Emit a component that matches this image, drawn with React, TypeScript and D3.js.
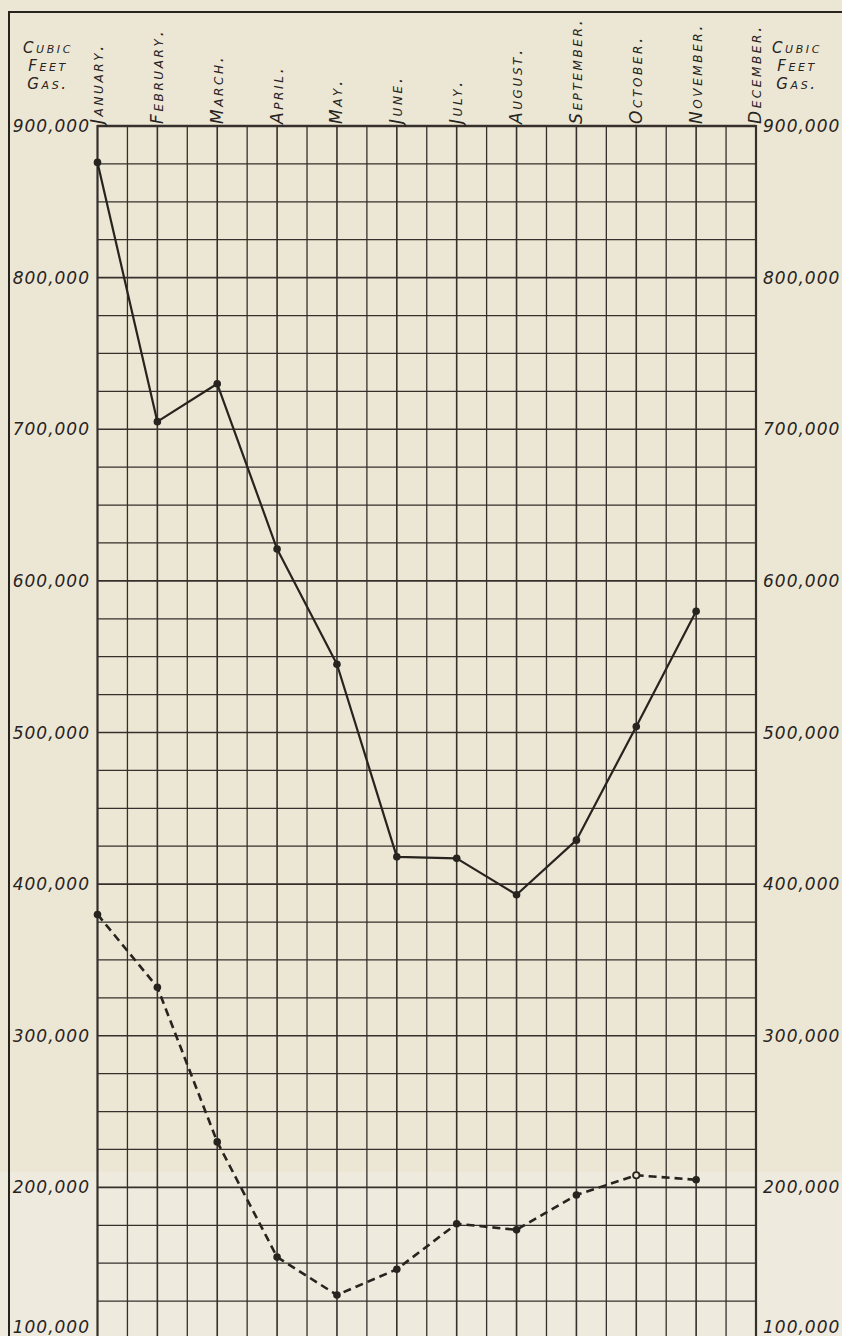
import React, { useEffect, useRef } from 'react';
import * as d3 from 'd3';

// Months along the top of the sheet
const months = [
  'January.', 'February.', 'March.', 'April.', 'May.', 'June.',
  'July.', 'August.', 'September.', 'October.', 'November.', 'December.',
];

// Solid line, cubic feet of gas, January to November
const upperSeries = [876000, 705000, 730000, 621000, 545000, 418000, 417000, 393000, 429000, 504000, 580000];

// Dashed line, cubic feet of gas, January to November
const lowerSeries = [380000, 332000, 230000, 154000, 129000, 146000, 176000, 172000, 195000, 208000, 205000];
// October point on the dashed line is drawn as an open ring
const lowerOpen = [false, false, false, false, false, false, false, false, false, true, false];

// Labelled values on both sides
const valueTicks = [900000, 800000, 700000, 600000, 500000, 400000, 300000, 200000, 100000];

const headerLines = ['Cubic', 'Feet', 'Gas.'];

const W = 842;
const H = 1336;

const App: React.FC = () => {
  const chartRef = useRef<SVGSVGElement>(null);

  useEffect(() => {
    if (!chartRef.current) return;
    const svg = d3.select(chartRef.current);
    svg.selectAll('*').remove();

    const ink = '#27231f';
    const gridInk = '#35302c';
    const paper = '#ece7d4';
    const font = '"DejaVu Sans", sans-serif';

    const x = d3.scalePoint<string>().domain(months).range([97.5, 756]);
    const y = d3.scaleLinear().domain([100000, 900000]).range([1339, 126]);
    const step = x.step();

    // paper
    svg.append('rect').attr('width', W).attr('height', H).attr('fill', paper);
    svg.append('rect').attr('y', 1172).attr('width', W).attr('height', H - 1172).attr('fill', '#eeeadd');

    // outer frame (runs off the right and bottom of the scan)
    svg.append('rect')
      .attr('x', 9).attr('y', 12)
      .attr('width', W + 20).attr('height', H + 20)
      .attr('fill', 'none').attr('stroke', ink).attr('stroke-width', 2);

    const grid = svg.append('g');
    const [x0, x1] = x.range();

    // horizontal rules every 25,000
    const hVals = d3.range(100000, 900001, 25000);
    grid.selectAll('line.h')
      .data(hVals)
      .enter()
      .append('line')
      .attr('x1', x0).attr('x2', x1)
      .attr('y1', d => y(d)).attr('y2', d => y(d))
      .attr('stroke', gridInk)
      .attr('stroke-width', d => (d === 900000 ? 2.4 : d % 100000 === 0 ? 1.6 : 1.3));

    // vertical rules: month lines plus half-month lines
    const vPos: { pos: number; major: boolean }[] = [];
    months.forEach((m, i) => {
      vPos.push({ pos: x(m)!, major: true });
      if (i < months.length - 1) vPos.push({ pos: x(m)! + step / 2, major: false });
    });
    grid.selectAll('line.v')
      .data(vPos)
      .enter()
      .append('line')
      .attr('x1', d => d.pos).attr('x2', d => d.pos)
      .attr('y1', y(900000) - 1).attr('y2', H)
      .attr('stroke', gridInk)
      .attr('stroke-width', (d, i) => (i === 0 || i === vPos.length - 1 ? 2.2 : d.major ? 1.6 : 1.3));

    // month labels, standing upright along the top
    svg.selectAll('text.month')
      .data(months)
      .enter()
      .append('text')
      .attr('transform', d => `translate(${x(d)},124) rotate(-90)`)
      .attr('dy', '0.32em')
      .attr('text-anchor', 'start')
      .style('font-family', font)
      .style('font-style', 'italic')
      .style('font-variant', 'small-caps')
      .style('font-size', '17px')
      .style('letter-spacing', '2.6px')
      .attr('fill', ink)
      .text(d => d);

    // value labels on both sides
    const fmt = d3.format(',');
    const sides = [
      { xPos: 90, anchor: 'end' },
      { xPos: 763, anchor: 'start' },
    ];
    sides.forEach(s => {
      svg.selectAll(null)
        .data(valueTicks)
        .enter()
        .append('text')
        .attr('x', s.xPos)
        .attr('y', d => Math.min(y(d), H - 9))
        .attr('dy', '0.36em')
        .attr('text-anchor', s.anchor)
        .style('font-family', font)
        .style('font-style', 'italic')
        .style('font-size', '17px')
        .style('letter-spacing', '1px')
        .attr('fill', ink)
        .text(d => fmt(d));
    });

    // "Cubic Feet Gas." headers
    [48, 797].forEach(cx => {
      svg.selectAll(null)
        .data(headerLines)
        .enter()
        .append('text')
        .attr('x', cx)
        .attr('y', (d, i) => 53 + i * 18)
        .attr('text-anchor', 'middle')
        .style('font-family', font)
        .style('font-style', 'italic')
        .style('font-variant', 'small-caps')
        .style('font-size', '15px')
        .style('letter-spacing', '2.6px')
        .attr('fill', ink)
        .text(d => d);
    });

    const line = d3.line<number>()
      .x((d, i) => x(months[i])!)
      .y(d => y(d));

    // solid line
    svg.append('path')
      .datum(upperSeries)
      .attr('d', line)
      .attr('fill', 'none')
      .attr('stroke', ink)
      .attr('stroke-width', 2.2)
      .attr('stroke-linejoin', 'round');

    svg.selectAll('circle.upper')
      .data(upperSeries)
      .enter()
      .append('circle')
      .attr('cx', (d, i) => x(months[i])!)
      .attr('cy', d => y(d))
      .attr('r', 3.8)
      .attr('fill', ink);

    // dashed line
    svg.append('path')
      .datum(lowerSeries)
      .attr('d', line)
      .attr('fill', 'none')
      .attr('stroke', ink)
      .attr('stroke-width', 2.6)
      .attr('stroke-dasharray', '8,5');

    svg.selectAll('circle.lower')
      .data(lowerSeries)
      .enter()
      .append('circle')
      .attr('cx', (d, i) => x(months[i])!)
      .attr('cy', d => y(d))
      .attr('r', (d, i) => (lowerOpen[i] ? 3.2 : 3.8))
      .attr('fill', (d, i) => (lowerOpen[i] ? paper : ink))
      .attr('stroke', ink)
      .attr('stroke-width', (d, i) => (lowerOpen[i] ? 1.8 : 0));
  }, []);

  return (
    <div style={{ position: 'absolute', left: 0, top: 0 }}>
      <svg ref={chartRef} width={W} height={H} style={{ display: 'block' }} />
    </div>
  );
};

export default App;
